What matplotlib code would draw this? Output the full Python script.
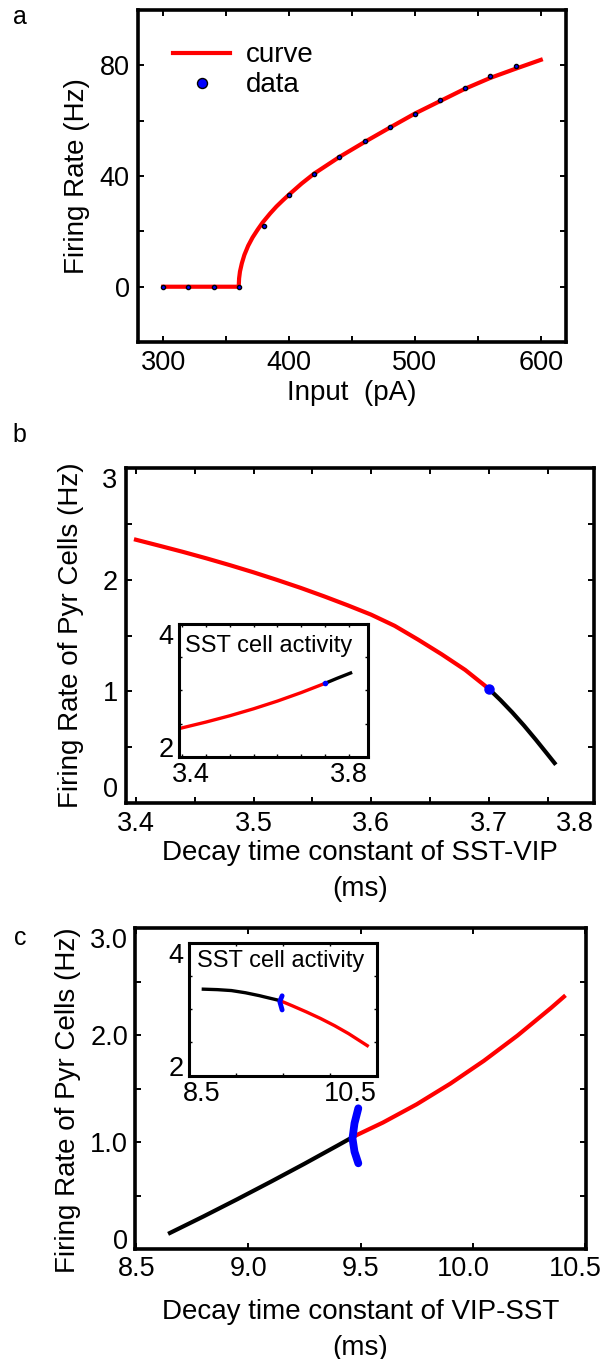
import matplotlib
matplotlib.use('Agg')
import matplotlib.pyplot as plt
from matplotlib.ticker import MultipleLocator
from matplotlib.transforms import offset_copy

plt.rcParams['font.family'] = ['Liberation Sans', 'DejaVu Sans']

# --- a: f-I curve of the model cell
fi_input = [300, 360, 360.3, 361, 362.5, 364.5, 367.5, 371, 375, 379, 385, 390, 395, 400,
            410, 420, 440, 460, 480, 500, 520, 540, 560, 580, 600]
fi_rate = [0, 0, 3.0, 5.5, 8.5, 11.5, 14.8, 17.8, 20.6, 23.2, 26.5, 29.0, 31.2, 33.3,
           37.3, 40.9, 46.9, 52.3, 57.5, 62.6, 67.1, 71.6, 75.5, 78.8, 82.0]
data_input = [300, 320, 340, 360, 380, 400, 420, 440, 460, 480, 500, 520, 540, 560, 580]
data_rate = [0, 0, 0, 0, 21.9, 33.3, 40.7, 46.9, 52.5, 57.7, 62.6, 67.4, 71.8, 76.2, 79.9]

# --- b: decay time constant SST-VIP
tau_sv_red = [3.40, 3.42, 3.44, 3.46, 3.48, 3.50, 3.52, 3.54, 3.56, 3.58,
              3.60, 3.62, 3.64, 3.66, 3.68, 3.70]
pyr_sv_red = [2.358, 2.304, 2.249, 2.191, 2.130, 2.066, 1.998, 1.927, 1.851, 1.771,
              1.687, 1.587, 1.463, 1.332, 1.192, 1.024]
tau_sv_blk = [3.70, 3.71, 3.72, 3.73, 3.74, 3.75, 3.756]
pyr_sv_blk = [1.024, 0.922, 0.812, 0.694, 0.568, 0.437, 0.358]
tau_sv_bif, pyr_sv_bif = 3.700, 1.024
# inset b: SST activity
tau_sv_red_in = [3.40, 3.45, 3.50, 3.55, 3.60, 3.65, 3.70]
sst_sv_red = [2.435, 2.522, 2.617, 2.722, 2.838, 2.966, 3.105]
tau_sv_blk_in = [3.70, 3.725, 3.754]
sst_sv_blk = [3.105, 3.180, 3.262]

# --- c: decay time constant VIP-SST
tau_vs_blk = [8.65, 8.80, 8.95, 9.10, 9.25, 9.40, 9.47]
pyr_vs_blk = [0.153, 0.308, 0.468, 0.632, 0.800, 0.973, 1.055]
tau_vs_red = [9.47, 9.60, 9.75, 9.90, 10.05, 10.20, 10.35, 10.407]
pyr_vs_red = [1.055, 1.185, 1.355, 1.548, 1.762, 1.998, 2.257, 2.361]
tau_vs_arc = [9.490, 9.473, 9.464, 9.473, 9.490]
pyr_vs_arc = [1.318, 1.178, 1.037, 0.913, 0.804]
# inset c
tau_vs_blk_in = [8.65, 8.80, 8.95, 9.10, 9.25, 9.29, 9.468]
sst_vs_blk = [3.300, 3.293, 3.279, 3.246, 3.202, 3.188, 3.128]
tau_vs_red_in = [9.468, 9.60, 9.75, 9.90, 10.05, 10.20, 10.40]
sst_vs_red = [3.128, 3.050, 2.958, 2.860, 2.752, 2.632, 2.451]
tau_vs_arc_in = [9.491, 9.466, 9.491]
sst_vs_arc = [3.200, 3.113, 2.988]

c_ticks = [0, 1, 2, 3]
c_ticklabels = ['0', '1.0', '2.0', '3.0']

RED, BLUE = '#ff0000', '#0000ff'
FS = 19.5


def style(ax, lw=2.6, pad=5):
    for s in ax.spines.values():
        s.set_linewidth(lw)
    ax.tick_params(which='both', direction='in', top=True, right=True,
                   length=4, width=1.4, labelsize=FS, pad=pad)


def shift(label, dx):
    label.set_transform(offset_copy(label.get_transform(), fig=fig, x=dx, y=0, units='dots'))


fig = plt.figure(figsize=(6.08, 13.59), dpi=100)

# ---------------- a
ax = fig.add_axes([0.2270, 0.7483, 0.7039, 0.2443])
ax.plot(fi_input, fi_rate, color=RED, lw=3, label='curve')
ax.plot(data_input, data_rate, 'o', ms=3.0, mfc=BLUE, mec='black', mew=1.0,
        label='data', zorder=3)
ax.set_xlim(280, 620)
ax.set_ylim(-20, 100)
ax.set_xticks([300, 400, 500, 600])
ax.set_yticks([0, 40, 80])
ax.xaxis.set_minor_locator(MultipleLocator(50))
ax.yaxis.set_minor_locator(MultipleLocator(20))
style(ax, pad=6)
ax.set_xlabel('Input  (pA)', fontsize=20)
ax.set_ylabel('Firing Rate (Hz)', fontsize=20)
ax.xaxis.set_label_coords(0.5, -0.115)
ax.yaxis.set_label_coords(-0.113, 0.5)
ax.legend(loc='upper left', bbox_to_anchor=(0.0827, 0.903), frameon=False,
          fontsize=20, borderpad=0, borderaxespad=0, handlelength=2.03,
          handletextpad=0.59, labelspacing=0.15, markerscale=2.4)

# ---------------- b
ax = fig.add_axes([0.2072, 0.4091, 0.7697, 0.2465])
ax.plot(tau_sv_red, pyr_sv_red, color=RED, lw=3)
ax.plot(tau_sv_blk, pyr_sv_blk, color='black', lw=3)
ax.plot([tau_sv_bif], [pyr_sv_bif], 'o', color=BLUE, ms=6.5, zorder=3)
ax.set_xlim(3.3915, 3.7895)
ax.set_ylim(0, 3)
ax.set_xticks([3.4, 3.5, 3.6, 3.7, 3.7895])
ax.xaxis.set_major_formatter('{x:.1f}')
ax.set_yticks([0, 1, 2, 3])
ax.xaxis.set_minor_locator(MultipleLocator(0.05))
ax.yaxis.set_minor_locator(MultipleLocator(0.5))
style(ax, pad=6)
ax.get_xticklabels()[-1].set_horizontalalignment('right')
ylabs = ax.get_yticklabels()
ylabs[0].set_verticalalignment('bottom')
ylabs[-1].set_verticalalignment('top')
ax.set_xlabel('Decay time constant of SST-VIP\n(ms)', fontsize=20, linespacing=1.5)
ax.set_ylabel('Firing Rate of Pyr Cells (Hz)', fontsize=20)
ax.xaxis.set_label_coords(0.5, -0.11)
ax.yaxis.set_label_coords(-0.090, 0.5)

ins = fig.add_axes([0.2949, 0.4432, 0.3099, 0.0976])
ins.plot(tau_sv_red_in, sst_sv_red, color=RED, lw=2.4)
ins.plot(tau_sv_blk_in, sst_sv_blk, color='black', lw=2.4)
ins.plot([tau_sv_red_in[-1]], [sst_sv_red[-1]], 'o', color=BLUE, ms=3, zorder=3)
ins.set_xlim(3.394, 3.79)
ins.set_ylim(2, 4)
ins.set_xticks([3.4, 3.79])
ins.xaxis.set_major_formatter('{x:.1f}')
ins.set_yticks([2, 4])
ins.xaxis.set_minor_locator(MultipleLocator(0.05))
ins.yaxis.set_minor_locator(MultipleLocator(0.5))
style(ins, lw=2.2, pad=4)
ins.tick_params(which='both', length=2.5, width=1)
xl = ins.get_xticklabels()
xl[-1].set_horizontalalignment('right')
shift(xl[0], 9)
yl = ins.get_yticklabels()
yl[0].set_verticalalignment('baseline')
yl[-1].set_verticalalignment('top')
ins.text(0.03, 0.915, 'SST cell activity', transform=ins.transAxes,
         fontsize=17, va='top', ha='left')

# ---------------- c
ax = fig.add_axes([0.2220, 0.0807, 0.7413, 0.2362])
ax.plot(tau_vs_blk, pyr_vs_blk, color='black', lw=3)
ax.plot(tau_vs_red, pyr_vs_red, color=RED, lw=3)
ax.plot(tau_vs_arc, pyr_vs_arc, color=BLUE, lw=5.6, solid_capstyle='round', zorder=3)
ax.set_xlim(8.494, 10.504)
ax.set_ylim(0, 3)
ax.set_xticks([8.5, 9.0, 9.5, 10.0, 10.5])
ax.xaxis.set_major_formatter('{x:.1f}')
ax.set_yticks(c_ticks, labels=c_ticklabels)
ax.yaxis.set_minor_locator(MultipleLocator(0.5))
style(ax, pad=5)
xl = ax.get_xticklabels()
shift(xl[3], -9)
shift(xl[4], -9)
yl = ax.get_yticklabels()
yl[0].set_verticalalignment('baseline')
yl[-1].set_verticalalignment('top')
ax.set_xlabel('Decay time constant of VIP-SST\n(ms)', fontsize=20, linespacing=1.5)
ax.set_ylabel('Firing Rate of Pyr Cells (Hz)', fontsize=20)
ax.xaxis.set_label_coords(0.5, -0.155)
ax.yaxis.set_label_coords(-0.119, 0.465)

ins = fig.add_axes([0.3113, 0.2085, 0.3082, 0.0979])
ins.plot(tau_vs_blk_in, sst_vs_blk, color='black', lw=2.4)
ins.plot(tau_vs_red_in, sst_vs_red, color=RED, lw=2.4)
ins.plot(tau_vs_arc_in, sst_vs_arc, color=BLUE, lw=3.5, solid_capstyle='round', zorder=3)
ins.set_xlim(8.5, 10.5)
ins.set_ylim(2, 4)
ins.set_xticks([8.5, 10.5])
ins.xaxis.set_major_formatter('{x:.1f}')
ins.set_yticks([2, 4])
ins.xaxis.set_minor_locator(MultipleLocator(0.5))
ins.yaxis.set_minor_locator(MultipleLocator(0.5))
style(ins, lw=2.2, pad=4)
ins.tick_params(which='both', length=2.5, width=1)
xl = ins.get_xticklabels()
xl[-1].set_horizontalalignment('right')
shift(xl[0], 12)
yl = ins.get_yticklabels()
yl[0].set_verticalalignment('baseline')
yl[-1].set_verticalalignment('top')
ins.text(0.04, 0.945, 'SST cell activity', transform=ins.transAxes,
         fontsize=17, va='top', ha='left')

# panel letters
fig.text(0.032, 0.9877, 'a', fontsize=18, ha='center', va='center')
fig.text(0.032, 0.6799, 'b', fontsize=18, ha='center', va='center')
fig.text(0.033, 0.3098, 'c', fontsize=18, ha='center', va='center')

fig.savefig('out.png', dpi=100)
